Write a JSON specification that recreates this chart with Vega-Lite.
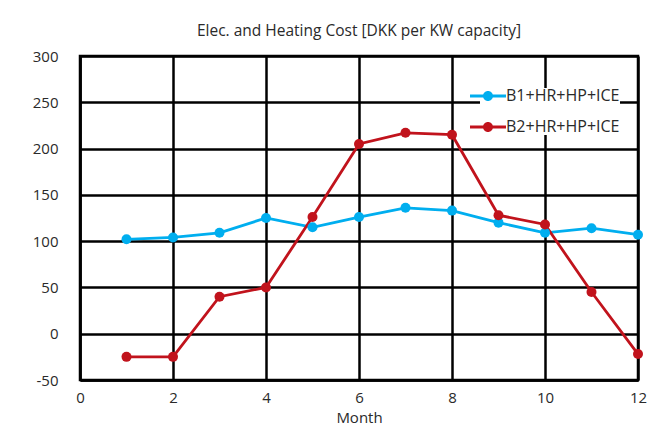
{
  "$schema": "https://vega.github.io/schema/vega-lite/v6.json",
  "width": 558,
  "height": 324,
  "autosize": {"type": "none"},
  "padding": {"left": 80, "top": 56, "right": 22, "bottom": 52},
  "background": "white",
  "title": {
    "text": "Elec. and Heating Cost [DKK per KW capacity]",
    "font": "Open Sans",
    "fontSize": 15.5,
    "fontWeight": "normal",
    "color": "#2a2a2a",
    "offset": 10
  },
  "data": {
    "values": [
      {"series": "B1+HR+HP+ICE", "month": 1, "cost": 102},
      {"series": "B1+HR+HP+ICE", "month": 2, "cost": 104},
      {"series": "B1+HR+HP+ICE", "month": 3, "cost": 109},
      {"series": "B1+HR+HP+ICE", "month": 4, "cost": 125},
      {"series": "B1+HR+HP+ICE", "month": 5, "cost": 115},
      {"series": "B1+HR+HP+ICE", "month": 6, "cost": 126},
      {"series": "B1+HR+HP+ICE", "month": 7, "cost": 136},
      {"series": "B1+HR+HP+ICE", "month": 8, "cost": 133},
      {"series": "B1+HR+HP+ICE", "month": 9, "cost": 120},
      {"series": "B1+HR+HP+ICE", "month": 10, "cost": 109},
      {"series": "B1+HR+HP+ICE", "month": 11, "cost": 114},
      {"series": "B1+HR+HP+ICE", "month": 12, "cost": 107},
      {"series": "B2+HR+HP+ICE", "month": 1, "cost": -25},
      {"series": "B2+HR+HP+ICE", "month": 2, "cost": -25},
      {"series": "B2+HR+HP+ICE", "month": 3, "cost": 40},
      {"series": "B2+HR+HP+ICE", "month": 4, "cost": 50},
      {"series": "B2+HR+HP+ICE", "month": 5, "cost": 126},
      {"series": "B2+HR+HP+ICE", "month": 6, "cost": 205},
      {"series": "B2+HR+HP+ICE", "month": 7, "cost": 217},
      {"series": "B2+HR+HP+ICE", "month": 8, "cost": 215},
      {"series": "B2+HR+HP+ICE", "month": 9, "cost": 128},
      {"series": "B2+HR+HP+ICE", "month": 10, "cost": 118},
      {"series": "B2+HR+HP+ICE", "month": 11, "cost": 45},
      {"series": "B2+HR+HP+ICE", "month": 12, "cost": -22}
    ]
  },
  "mark": {
    "type": "line",
    "strokeWidth": 2.8,
    "point": {"filled": true, "size": 100, "opacity": 1}
  },
  "encoding": {
    "x": {
      "field": "month",
      "type": "quantitative",
      "title": "Month",
      "scale": {"domain": [0, 12], "nice": false, "zero": false},
      "axis": {
        "values": [0, 2, 4, 6, 8, 10, 12],
        "format": "d",
        "labelFlush": false,
        "grid": true,
        "gridColor": "#000000",
        "gridWidth": 2.5,
        "gridOpacity": 1,
        "domainColor": "#000000",
        "domainWidth": 2.5,
        "ticks": false,
        "labelPadding": 10,
        "labelFont": "Open Sans",
        "labelFontSize": 15,
        "labelColor": "#2a2a2a",
        "titleFont": "Open Sans",
        "titleFontSize": 15,
        "titleFontWeight": "normal",
        "titleColor": "#2a2a2a",
        "titlePadding": 5
      }
    },
    "y": {
      "field": "cost",
      "type": "quantitative",
      "title": null,
      "scale": {"domain": [-50, 300], "nice": false, "zero": false},
      "axis": {
        "values": [-50, 0, 50, 100, 150, 200, 250, 300],
        "labelExpr": "datum.value < 0 ? '-' + abs(datum.value) : '' + datum.value",
        "labelFlush": false,
        "grid": true,
        "gridColor": "#000000",
        "gridWidth": 2.5,
        "gridOpacity": 1,
        "domainColor": "#000000",
        "domainWidth": 2.5,
        "ticks": false,
        "labelPadding": 22,
        "labelFont": "Open Sans",
        "labelFontSize": 15,
        "labelColor": "#2a2a2a"
      }
    },
    "color": {
      "field": "series",
      "type": "nominal",
      "scale": {
        "domain": ["B1+HR+HP+ICE", "B2+HR+HP+ICE"],
        "range": ["#00AEEF", "#C1131C"]
      },
      "legend": {
        "title": null,
        "orient": "none",
        "legendX": 400,
        "legendY": 32,
        "padding": 0,
        "fillColor": "white",
        "symbolType": "M-3.6,-0.28H3.6V0.28H-3.6Z M-1,0A1,1 0 1,1 1,0A1,1 0 1,1 -1,0Z",
        "symbolSize": 100,
        "symbolStrokeWidth": 0,
        "symbolOpacity": 1,
        "labelOffset": 10,
        "labelFont": "Open Sans",
        "labelFontSize": 16,
        "labelColor": "#2a2a2a",
        "rowPadding": 15
      }
    }
  },
  "config": {
    "view": {"stroke": "#000000", "strokeWidth": 2.5},
    "legend": {"symbolFillColor": null}
  }
}
